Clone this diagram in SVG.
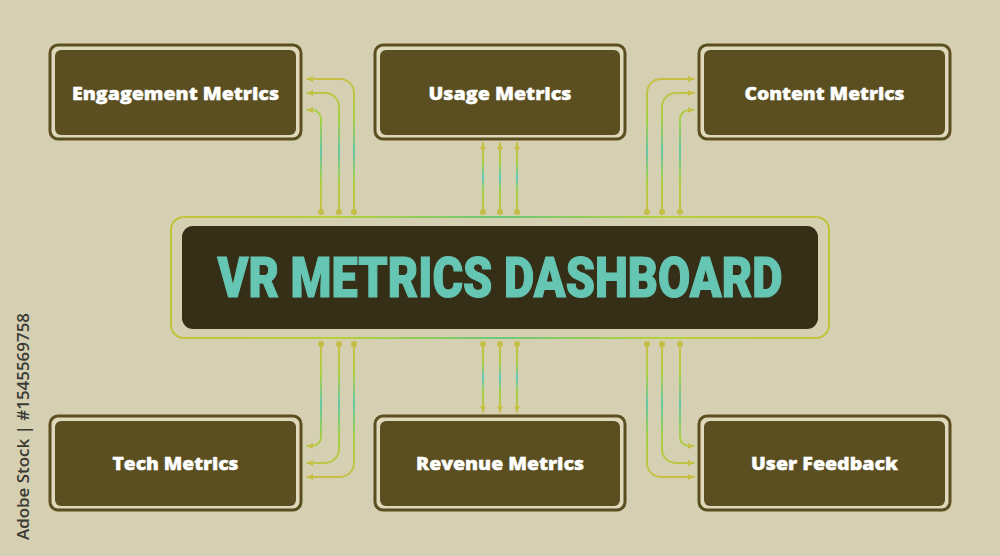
<svg xmlns="http://www.w3.org/2000/svg" width="1000" height="556" viewBox="0 0 1000 556">
<defs>
<style>
.nodeOuter{fill:#dfd9bc;stroke:#5b4f21;stroke-width:3}
.nodeInner{fill:#5b4f21}
.nodeText{font-family:"Open Sans","Liberation Sans",sans-serif;font-weight:800;font-size:17px;fill:#ffffff;text-anchor:middle;stroke:#ffffff;stroke-width:0.4}
.conn{fill:none;stroke-width:2;stroke-linecap:round}
.dot{fill:#c4bd48}
</style>
<linearGradient id="gTop" gradientUnits="userSpaceOnUse" x1="0" y1="79" x2="0" y2="212">
<stop offset="0" stop-color="#c8c046"/><stop offset="0.3" stop-color="#a6cf44"/><stop offset="0.55" stop-color="#62c8a4"/><stop offset="0.78" stop-color="#b0cf42"/><stop offset="1" stop-color="#c8c046"/>
</linearGradient>
<linearGradient id="gBot" gradientUnits="userSpaceOnUse" x1="0" y1="344" x2="0" y2="477">
<stop offset="0" stop-color="#c8c046"/><stop offset="0.22" stop-color="#b0cf42"/><stop offset="0.45" stop-color="#62c8a4"/><stop offset="0.7" stop-color="#a6cf44"/><stop offset="1" stop-color="#c8c046"/>
</linearGradient>
<linearGradient id="gTopMid" gradientUnits="userSpaceOnUse" x1="0" y1="143" x2="0" y2="212">
<stop offset="0" stop-color="#c8c046"/><stop offset="0.3" stop-color="#a6cf44"/><stop offset="0.5" stop-color="#5cc8c0"/><stop offset="0.7" stop-color="#a6cf44"/><stop offset="1" stop-color="#c8c046"/>
</linearGradient>
<linearGradient id="gBotMid" gradientUnits="userSpaceOnUse" x1="0" y1="344" x2="0" y2="412">
<stop offset="0" stop-color="#c8c046"/><stop offset="0.3" stop-color="#a6cf44"/><stop offset="0.5" stop-color="#5cc8c0"/><stop offset="0.7" stop-color="#a6cf44"/><stop offset="1" stop-color="#c8c046"/>
</linearGradient>
<linearGradient id="gFrame" gradientUnits="userSpaceOnUse" x1="171" y1="0" x2="829" y2="0">
<stop offset="0" stop-color="#c2c23a"/><stop offset="0.25" stop-color="#b6d03a"/><stop offset="0.5" stop-color="#6cc878"/><stop offset="0.75" stop-color="#b6d03a"/><stop offset="1" stop-color="#c2c23a"/>
</linearGradient>
<marker id="arr" markerUnits="userSpaceOnUse" markerWidth="7" markerHeight="7" refX="6" refY="3.5" orient="auto">
<path d="M0,0.5 L6,3.5 L0,6.5 z" fill="#c6bf46"/>
</marker>
</defs>
<rect x="0" y="0" width="1000" height="556" fill="#d6d0b2"/>

<g id="center">
<rect x="171" y="217" width="658" height="121" rx="13" fill="none" stroke="url(#gFrame)" stroke-width="2"/>
<rect x="182" y="226" width="636" height="103" rx="11" fill="#362f17"/>
<text x="500" y="297" font-family="Roboto,'Liberation Sans',sans-serif" font-weight="900" font-size="56" fill="#66c6b4" stroke="#66c6b4" stroke-width="1.2" text-anchor="middle" textLength="565" lengthAdjust="spacingAndGlyphs">VR METRICS DASHBOARD</text>
</g>

<g id="engagement">
<rect class="nodeOuter" x="50" y="45" width="251" height="94" rx="8"/>
<rect class="nodeInner" x="55" y="50" width="241" height="85" rx="6"/>
<text class="nodeText" x="175.5" y="100" textLength="207" lengthAdjust="spacingAndGlyphs">Engagement Metrics</text>
</g>
<g id="usage">
<rect class="nodeOuter" x="375" y="45" width="250" height="94" rx="8"/>
<rect class="nodeInner" x="380" y="50" width="240" height="85" rx="6"/>
<text class="nodeText" x="500" y="100" textLength="143" lengthAdjust="spacingAndGlyphs">Usage Metrics</text>
</g>
<g id="content">
<rect class="nodeOuter" x="699" y="45" width="251" height="94" rx="8"/>
<rect class="nodeInner" x="704" y="50" width="241" height="85" rx="6"/>
<text class="nodeText" x="824.5" y="100" textLength="160" lengthAdjust="spacingAndGlyphs">Content Metrics</text>
</g>
<g id="tech">
<rect class="nodeOuter" x="50" y="416" width="251" height="94" rx="8"/>
<rect class="nodeInner" x="55" y="421" width="241" height="85" rx="6"/>
<text class="nodeText" x="175.5" y="470" textLength="126" lengthAdjust="spacingAndGlyphs">Tech Metrics</text>
</g>
<g id="revenue">
<rect class="nodeOuter" x="375" y="416" width="250" height="94" rx="8"/>
<rect class="nodeInner" x="380" y="421" width="240" height="85" rx="6"/>
<text class="nodeText" x="500" y="470" textLength="168" lengthAdjust="spacingAndGlyphs">Revenue Metrics</text>
</g>
<g id="feedback">
<rect class="nodeOuter" x="699" y="416" width="251" height="94" rx="8"/>
<rect class="nodeInner" x="704" y="421" width="241" height="85" rx="6"/>
<text class="nodeText" x="824.5" y="470" textLength="147" lengthAdjust="spacingAndGlyphs">User Feedback</text>
</g>

<g id="connectors">
<path class="conn" stroke="url(#gTop)" marker-end="url(#arr)" d="M354,212 V93 A14,14 0 0 0 340,79 H307"/>
<path class="conn" stroke="url(#gTop)" marker-end="url(#arr)" d="M339,212 V107 A14,14 0 0 0 325,93 H307"/>
<path class="conn" stroke="url(#gTop)" marker-end="url(#arr)" d="M321,212 V119 A9,9 0 0 0 312,110 H307"/>
<path class="conn" stroke="url(#gTopMid)" marker-end="url(#arr)" d="M483,212 V143"/>
<path class="conn" stroke="url(#gTopMid)" marker-end="url(#arr)" d="M500,212 V143"/>
<path class="conn" stroke="url(#gTopMid)" marker-end="url(#arr)" d="M517,212 V143"/>
<path class="conn" stroke="url(#gTop)" marker-end="url(#arr)" d="M647,212 V93 A14,14 0 0 1 661,79 H694"/>
<path class="conn" stroke="url(#gTop)" marker-end="url(#arr)" d="M662,212 V107 A14,14 0 0 1 676,93 H694"/>
<path class="conn" stroke="url(#gTop)" marker-end="url(#arr)" d="M680,212 V119 A9,9 0 0 1 689,110 H694"/>
<path class="conn" stroke="url(#gBot)" marker-end="url(#arr)" d="M321,344 V437 A9,9 0 0 1 312,446 H307"/>
<path class="conn" stroke="url(#gBot)" marker-end="url(#arr)" d="M339,344 V449 A14,14 0 0 1 325,463 H307"/>
<path class="conn" stroke="url(#gBot)" marker-end="url(#arr)" d="M354,344 V463 A14,14 0 0 1 340,477 H307"/>
<path class="conn" stroke="url(#gBotMid)" marker-end="url(#arr)" d="M483,344 V412"/>
<path class="conn" stroke="url(#gBotMid)" marker-end="url(#arr)" d="M500,344 V412"/>
<path class="conn" stroke="url(#gBotMid)" marker-end="url(#arr)" d="M517,344 V412"/>
<path class="conn" stroke="url(#gBot)" marker-end="url(#arr)" d="M680,344 V437 A9,9 0 0 0 689,446 H694"/>
<path class="conn" stroke="url(#gBot)" marker-end="url(#arr)" d="M662,344 V449 A14,14 0 0 0 676,463 H694"/>
<path class="conn" stroke="url(#gBot)" marker-end="url(#arr)" d="M647,344 V463 A14,14 0 0 0 661,477 H694"/>
<circle class="dot" cx="321" cy="212" r="3"/><circle class="dot" cx="339" cy="212" r="3"/><circle class="dot" cx="354" cy="212" r="3"/>
<circle class="dot" cx="483" cy="212" r="3"/><circle class="dot" cx="500" cy="212" r="3"/><circle class="dot" cx="517" cy="212" r="3"/>
<circle class="dot" cx="647" cy="212" r="3"/><circle class="dot" cx="662" cy="212" r="3"/><circle class="dot" cx="680" cy="212" r="3"/>
<circle class="dot" cx="321" cy="344" r="3"/><circle class="dot" cx="339" cy="344" r="3"/><circle class="dot" cx="354" cy="344" r="3"/>
<circle class="dot" cx="483" cy="344" r="3"/><circle class="dot" cx="500" cy="344" r="3"/><circle class="dot" cx="517" cy="344" r="3"/>
<circle class="dot" cx="647" cy="344" r="3"/><circle class="dot" cx="662" cy="344" r="3"/><circle class="dot" cx="680" cy="344" r="3"/>
</g>

<text transform="translate(29,540) rotate(-90)" font-family="'Open Sans','Liberation Sans',sans-serif" font-weight="600" font-size="16" fill="#3a3a36" textLength="227" lengthAdjust="spacingAndGlyphs">Adobe Stock | #1545569758</text>
</svg>
